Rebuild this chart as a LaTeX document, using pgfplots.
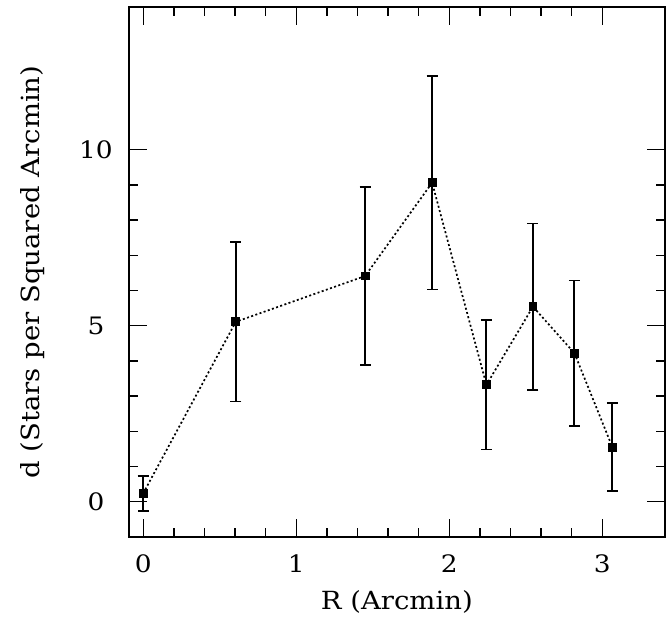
\documentclass[border=0pt]{standalone}
\usepackage{pgfplots}
\pgfplotsset{compat=1.18}
\usepackage{fontspec}
\setmainfont{DejaVu Serif}
\newfontfamily\labfont{DejaVu Serif}[FakeStretch=1.1]
\pgfplotstableread{
x y e
0.000 0.24 0.50
0.605 5.11 2.26
1.450 6.41 2.53
1.888 9.06 3.03
2.243 3.32 1.84
2.547 5.54 2.36
2.818 4.22 2.06
3.066 1.55 1.25
}\datatab
\begin{document}
\begin{tikzpicture}
\path[use as bounding box] (-128.7bp,-80.7bp) rectangle (542.3bp,537.3bp);
\begin{axis}[
  scale only axis, width=536.3bp, height=530.3bp,
  xmin=-0.095, xmax=3.41, ymin=-1.01, ymax=14.05,
  xtick={0,1,2,3}, minor x tick num=4,
  ytick={0,5,10}, minor y tick num=4,
  tick align=inside,
  major tick length=18bp, minor tick length=9bp,
  every tick/.style={black, line width=1.4bp},
  axis line style={line width=1.7bp},
  /pgf/number format/assume math mode=true,
  ticklabel style={font=\labfont\fontsize{24bp}{28bp}\selectfont},
  xticklabel style={anchor=center, yshift=-26.7bp},
  yticklabel style={anchor=center, xshift=-32.7bp},
  label style={font=\labfont\fontsize{25bp}{29bp}\selectfont},
  xlabel={R (Arcmin)},
  ylabel={d (Stars per Squared Arcmin)},
  xlabel style={at={(axis description cs:0.5,-0.1225)}, anchor=center},
  ylabel style={at={(axis description cs:-0.180,0.5)}, anchor=center},
]
\addplot[black, line width=1.7bp, dash pattern=on 2bp off 2.4bp,
  mark=square*, mark size=3.6bp, mark options={solid, fill=black},
  error bars/.cd, y dir=both, y explicit,
  error bar style={solid, line width=2bp},
  error mark options={rotate=90, mark size=5.5bp, line width=1.7bp, solid}]
  table[x=x, y=y, y error=e] {\datatab};
\end{axis}
\end{tikzpicture}
\end{document}
